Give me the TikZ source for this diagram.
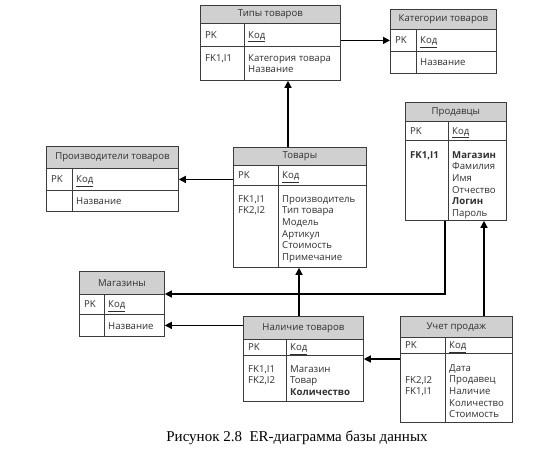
\documentclass[tikz,border=0pt]{standalone}
\usepackage{fontspec}
\setmainfont{Open Sans}
\newfontfamily\capfont{Liberation Serif}
\usetikzlibrary{arrows.meta,calc}
\definecolor{hdrc}{HTML}{D0D0D0}
\definecolor{linec}{HTML}{3C3C3C}
\definecolor{txtc}{HTML}{303030}
\tikzset{
 frame/.style={draw=linec, line width=0.8pt},
 hdr/.style={frame, fill=hdrc, inner sep=0pt, text=txtc, font=\fontsize{9.6}{12}\selectfont},
 cell/.style={frame, fill=white, inner sep=0pt},
 lbl/.style={inner sep=0pt, text=txtc, font=\fontsize{9.6}{11.7}\selectfont, align=left},
 arr/.style={draw=black, line width=1.3pt, -{Triangle[length=7pt,width=7pt]}},
}
\newcommand\ent[9]{%
 \node[hdr, anchor=north west, minimum width={(#3-#2)*1pt}, minimum height={(#6-#5)*1pt}] (#1-h) at (#2,#5) {#9};
 \node[cell, anchor=north west, minimum width={(#3-#2)*1pt}, minimum height={(#7-#6)*1pt}] (#1-p) at (#2,#6) {};
 \node[cell, anchor=north west, minimum width={(#3-#2)*1pt}, minimum height={(#8-#7)*1pt}] (#1-b) at (#2,#7) {};
 \draw[frame] (#4,#6) -- (#4,#8);}
\newcommand\pkrow[2]{%
 \node[lbl, anchor=base west] (#1-pkl) at ($(#1-p.west)+(5,3.5)$) {PK};
 \node[lbl, anchor=base west] (#1-pkf) at ($(#1-p.west -| #2,0)+(4,3.5)$) {\underline{Код}};}
\begin{document}
\begin{tikzpicture}[x=1pt,y=-1pt]
\useasboundingbox (0,0) rectangle (535,460);
% entities
\ent{tip}{200}{340}{244}{5}{23}{46}{80}{Типы товаров}
\ent{kat}{390}{496}{416}{9}{29}{51}{73}{Категории товаров}
\ent{prz}{46}{178}{72}{146}{168}{190}{211}{Производители товаров}
\ent{tov}{233}{366}{278}{147}{165}{185}{267}{Товары}
\ent{prd}{405}{506}{448}{102}{121}{140}{220}{Продавцы}
\ent{mag}{79}{164}{104}{271}{294}{314}{336}{Магазины}
\ent{nal}{243}{363}{286}{316}{339}{355}{401}{Наличие товаров}
\ent{uch}{400}{512}{445}{316}{337}{353}{422}{Учет продаж}
\pkrow{tip}{244}
\pkrow{kat}{416}
\pkrow{prz}{72}
\pkrow{tov}{278}
\pkrow{prd}{448}
\pkrow{mag}{104}
\pkrow{nal}{286}
\pkrow{uch}{445}
% body texts
\node[lbl, anchor=north west] (tip-fk) at (205,54) {FK1,I1};
\node[lbl, anchor=north west] (tip-fl) at (248,54) {Категория товара\\Название};
\node[lbl, anchor=north west] (kat-fl) at (420,58) {Название};
\node[lbl, anchor=north west] (prz-fl) at (76,197) {Название};
\node[lbl, anchor=north west] (tov-fk) at (238,195) {FK1,I1\\FK2,I2};
\node[lbl, anchor=north west] (tov-fl) at (282,195) {Производитель\\Тип товара\\Модель\\Артикул\\Стоимость\\Примечание};
\node[lbl, anchor=north west] (prd-fk) at (410,151) {\textbf{FK1,I1}};
\node[lbl, anchor=north west] (prd-fl) at (452,151) {\textbf{Магазин}\\Фамилия\\Имя\\Отчество\\\textbf{Логин}\\Пароль};
\node[lbl, anchor=north west] (mag-fl) at (108,322) {Название};
\node[lbl, anchor=north west] (nal-fk) at (248,365) {FK1,I1\\FK2,I2};
\node[lbl, anchor=north west] (nal-fl) at (290,365) {Магазин\\Товар\\\textbf{Количество}};
\node[lbl, anchor=north west] (uch-fk) at (405,376) {FK2,I2\\FK1,I1};
\node[lbl, anchor=north west] (uch-fl) at (449,364) {Дата\\Продавец\\Наличие\\Количество\\Стоимость};
% connector guides
\coordinate (x288) at (288,0);
\coordinate (x299) at (299,0);
\coordinate (x445) at (445,0);
\coordinate (x484) at (484,0);
\coordinate (y359) at (0,359);
% connectors
\draw[arr] (tip-p.east |- kat-p.west) -- (kat-p.west);
\draw[arr] (tov-h.north -| x288) -- (tip-b.south -| x288);
\draw[arr] (tov-p.west |- prz-p.east) -- (prz-p.east);
\draw[arr] (nal-h.north -| x299) -- (tov-b.south -| x299);
\draw[arr] (nal-h.west |- mag-b.east) -- (mag-b.east);
\draw[arr] (prd-b.south -| x445) |- (mag-p.north east);
\draw[arr] (uch-h.north -| x484) -- (prd-b.south -| x484);
\draw[arr] (uch-b.west |- y359) -- (nal-b.east |- y359);
% caption
\node[font=\capfont\fontsize{15}{17}\selectfont, anchor=base, inner sep=0pt] (cap) at (297,441) {Рисунок 2.8~~ER-диаграмма базы данных};
\end{tikzpicture}
\end{document}
